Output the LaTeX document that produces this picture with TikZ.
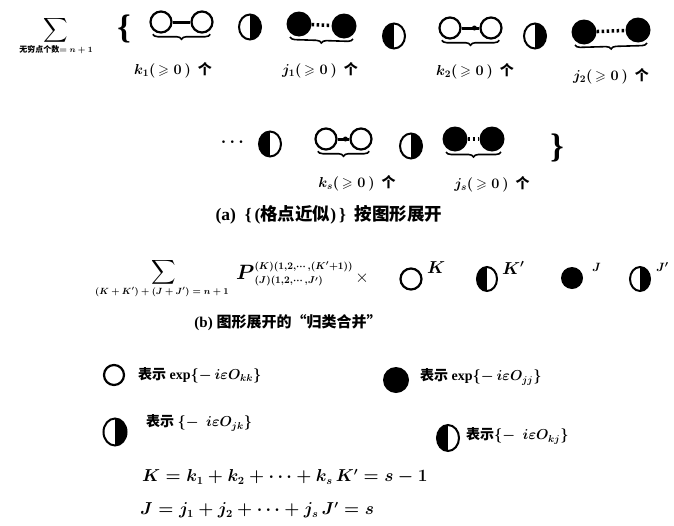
\documentclass[tikz,border=0pt]{standalone}
\usepackage{amsmath,amssymb}
\usepackage{fontspec}
\setmainfont{Liberation Serif}
\newfontfamily\cjk{Noto Sans CJK SC}
\usetikzlibrary{shapes.geometric,decorations.pathreplacing}
\tikzset{
  opn/.style={circle,draw,line width=2.2pt,minimum size=21pt,inner sep=0pt},
  ful/.style={circle,fill,minimum size=25pt,inner sep=0pt},
  halfL/.style={ellipse,draw,line width=2pt,minimum width=22pt,minimum height=25pt,inner sep=0pt,
    path picture={\fill (path picture bounding box.south west) rectangle (path picture bounding box.north);}},
  halfR/.style={ellipse,draw,line width=2pt,minimum width=22pt,minimum height=25pt,inner sep=0pt,
    path picture={\fill (path picture bounding box.south) rectangle (path picture bounding box.north east);}},
  openlink/.style={line width=3pt},
  dotlink/.style={line width=3.5pt,dash pattern=on 2.5pt off 2.5pt},
  ubrace/.style={decorate,decoration={brace,mirror,amplitude=5pt},line width=1.6pt},
  lbl/.style={font=\fontsize{14}{14}\selectfont\boldmath,inner sep=0pt},
  txt/.style={font=\fontsize{14}{14}\selectfont\boldmath,inner sep=0pt},
}
\newcommand\mycnt[1]{$#1(\,\geqslant 0\,)$\enspace{\cjk\bfseries 个}}
\begin{document}
\begin{tikzpicture}[x=1pt,y=-1pt]
\path[use as bounding box,fill=white] (0,0) rectangle (674,525);

% ---------- row 1 ----------
\node[inner sep=0pt,font=\fontsize{17}{17}\selectfont\boldmath] (sum1) at (56,30) {$\displaystyle\sum$};
\node[inner sep=0pt,font=\fontsize{8}{8}\selectfont\boldmath] (sub1) at (56,50) {{\cjk\bfseries 无穷点个数}$=n+1$};
\node[inner sep=0pt,font=\fontsize{34}{34}\selectfont\bfseries] (lbr) at (124,29) {\{};

\node[opn] (a1) at (161,22) {};
\node[opn] (b1) at (202,22) {};
\draw[openlink] (a1) -- (b1);
\draw[ubrace] ([yshift=-4pt]a1.south west) -- ([yshift=-4pt]b1.south east);
\node[lbl] (la1) at (173,70) {\mycnt{k_1}};

\node[halfR] (h1) at (250,27) {};

\node[ful] (c1) at (299,24) {};
\node[ful] (d1) at (344,26) {};
\draw[dotlink] (c1) -- (d1);
\draw[ubrace] ([yshift=-4pt]c1.south west) -- ([yshift=-4pt]d1.south east);
\node[lbl] (lc1) at (320,70) {\mycnt{j_1}};

\node[halfL] (h2) at (394,36) {};

\node[opn] (a2) at (450,28) {};
\node[opn] (b2) at (491,28) {};
\draw[openlink] (a2) -- (b2);
\fill (b2.west) ++(-5pt,0) circle (2.5pt);
\draw[ubrace] ([yshift=-4pt]a2.south west) -- ([yshift=-4pt]b2.south east);
\node[lbl] (la2) at (475,71) {\mycnt{k_2}};

\node[halfR] (h3) at (535,36) {};

\node[ful] (c2) at (584,32) {};
\node[ful] (d2) at (638,30) {};
\draw[dotlink] (c2) -- (d2);
\draw[ubrace] ([yshift=-4pt]c2.south west) -- ([yshift=-4pt]d2.south east);
\node[lbl] (lc2) at (611,76) {\mycnt{j_2}};

% ---------- row 2 ----------
\node[inner sep=0pt,font=\fontsize{18}{18}\selectfont\boldmath] (dots) at (234,142) {$\cdots$};
\node[halfL] (h4) at (270,144) {};

\node[opn] (a3) at (326,139) {};
\node[opn] (b3) at (361,139) {};
\draw[openlink] (a3) -- (b3);
\fill (b3.west) ++(-4pt,0) circle (2.5pt);
\draw[ubrace] ([yshift=-4pt]a3.south west) -- ([yshift=-4pt]b3.south east);
\node[lbl] (la3) at (357,183) {\mycnt{k_s}};

\node[halfR] (h5) at (411,146) {};

\node[ful] (c3) at (455,139) {};
\node[ful] (d3) at (492,139) {};
\draw[dotlink] (c3) -- (d3);
\draw[ubrace] ([yshift=-4pt]c3.south west) -- ([yshift=-4pt]d3.south east);
\node[lbl] (lc3) at (492,184) {\mycnt{j_s}};

\node[inner sep=0pt,font=\fontsize{34}{34}\selectfont\bfseries] (rbr) at (557,148) {\}};

\node[inner sep=0pt,font=\fontsize{17.5}{17.5}\selectfont\bfseries] (capa) at (329,215)
  {(a)\ \ \{\,({\cjk\bfseries 格点近似})\,\}\ \ {\cjk\bfseries 按图形展开}};

% ---------- row 3 ----------
\node[inner sep=0pt,font=\fontsize{17}{17}\selectfont\boldmath] (sum2) at (164,272) {$\displaystyle\sum$};
\node[inner sep=0pt,font=\fontsize{9}{9}\selectfont\boldmath] (sub2) at (162,292) {$(K+K')+(J+J')=n+1$};
\node[inner sep=0pt,anchor=west,font=\fontsize{14}{14}\selectfont\boldmath] (P) at (236,274)
  {$\text{\fontsize{22}{22}\selectfont$P$}^{(K)(1,2,\cdots,(K'+1))}_{(J)(1,2,\cdots,J')}$};
\node[inner sep=0pt,font=\fontsize{18}{18}\selectfont] (times) at (362,278) {$\times$};
\node[opn,minimum size=21pt] (oK) at (411,279) {};
\node[inner sep=0pt,anchor=west,font=\fontsize{16}{16}\selectfont\boldmath] (eK) at (427,268) {$K$};
\node[halfL,minimum width=20pt,minimum height=24pt] (hK) at (487,279) {};
\node[inner sep=0pt,anchor=west,font=\fontsize{16}{16}\selectfont\boldmath] (eKp) at (502,268) {$K'$};
\node[ful,minimum size=22pt] (fJ) at (572,278) {};
\node[inner sep=0pt,anchor=west,font=\fontsize{13}{13}\selectfont\boldmath] (eJ) at (592,267) {$J$};
\node[halfR,minimum width=20pt,minimum height=24pt] (hJ) at (640,279) {};
\node[inner sep=0pt,anchor=west,font=\fontsize{13}{13}\selectfont\boldmath] (eJp) at (656,267) {$J'$};

\node[inner sep=0pt,font=\fontsize{15}{15}\selectfont\bfseries] (capb) at (288,323)
  {(b)\ {\cjk\bfseries 图形展开的“归类合并”}};

% ---------- legend ----------
\node[opn,minimum size=20pt] (gO) at (114,375) {};
\node[txt,anchor=west] (tO) at (138,375) {{\cjk\bfseries 表示} $\exp\{-\,i\varepsilon O_{kk}\}$};
\node[ful,minimum size=26pt] (gF) at (396,380) {};
\node[txt,anchor=west] (tF) at (420,377) {{\cjk\bfseries 表示} $\exp\{-\,i\varepsilon O_{jj}\}$};
\node[halfR,minimum width=23pt,minimum height=27pt] (gR) at (115,432) {};
\node[txt,anchor=west] (tR) at (146,423) {{\cjk\bfseries 表示} $\{-\;\,i\varepsilon O_{jk}\}$};
\node[halfL,minimum width=22pt,minimum height=26pt] (gL) at (448,438) {};
\node[txt,anchor=west] (tL) at (466,436) {{\cjk\bfseries 表示}$\{-\;\,i\varepsilon O_{kj}\}$};

\node[inner sep=0pt,anchor=west,font=\fontsize{16}{16}\selectfont\boldmath] (eqK) at (142,477)
  {$K=k_1+k_2+\cdots+k_s\,K'=s-1$};
\node[inner sep=0pt,anchor=west,font=\fontsize{16}{16}\selectfont\boldmath] (eqJ) at (140,510)
  {$J=j_1+j_2+\cdots+j_s\,J'=s$};
\end{tikzpicture}
\end{document}
